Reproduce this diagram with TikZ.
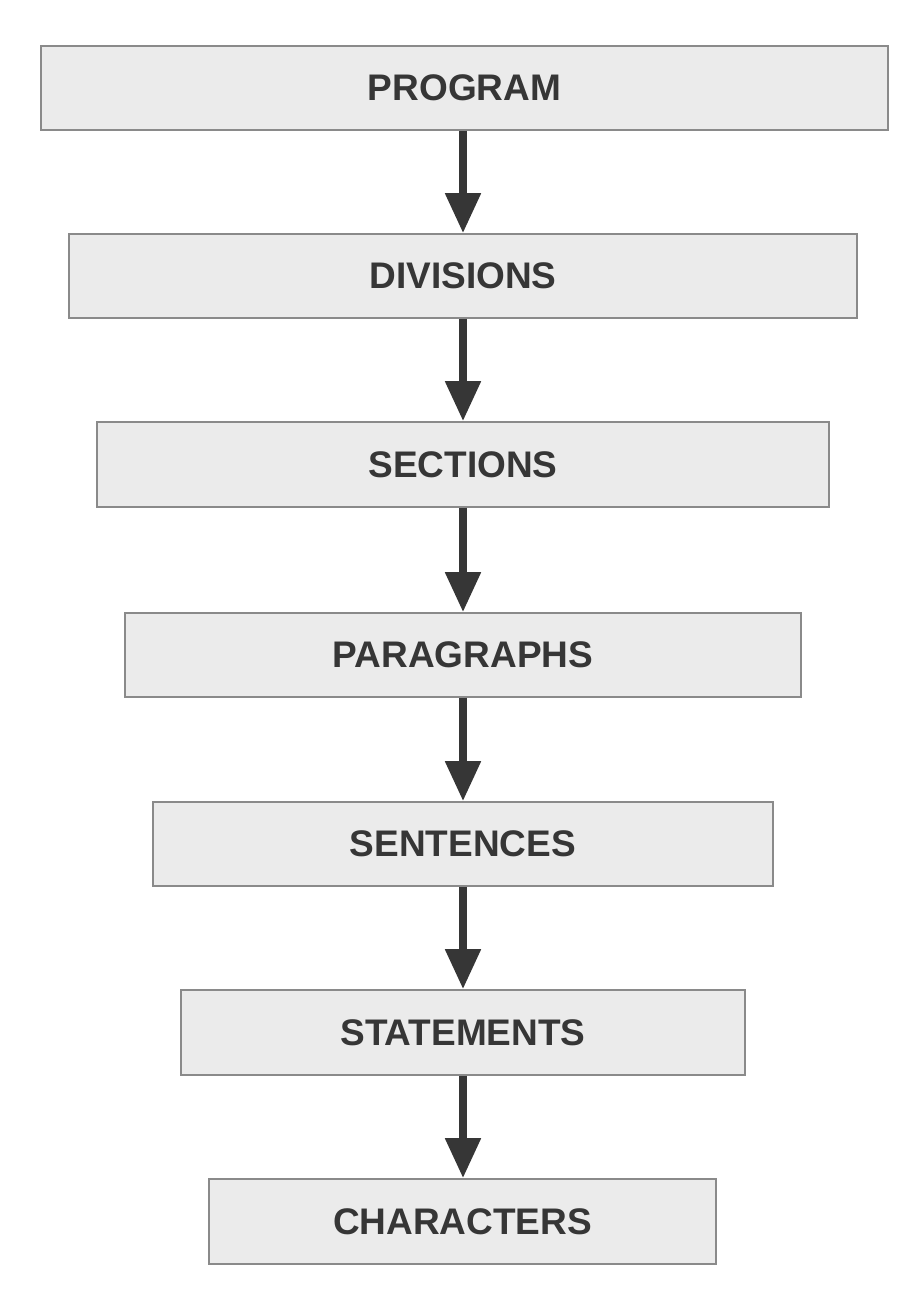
\documentclass[tikz,border=0pt]{standalone}
\usepackage{fontspec}
\setmainfont{Liberation Sans}
\usetikzlibrary{arrows.meta}
\definecolor{boxfill}{HTML}{EBEBEB}
\definecolor{boxline}{HTML}{8A8A8A}
\definecolor{ink}{HTML}{363636}
\begin{document}
\begin{tikzpicture}[x=1pt,y=-1pt,
  levelbox/.style={draw=boxline,line width=1.6pt,fill=boxfill,inner sep=0pt,
    text=ink,font=\fontsize{37}{40}\selectfont\bfseries},
  flow/.style={draw=ink,line width=8pt,-{Triangle[length=40pt,width=34pt]},shorten >=0pt}]
\useasboundingbox (0,0) rectangle (907,1298);
\node[levelbox,minimum width=847pt,minimum height=84pt] (program) at (464.5,88) {PROGRAM};
\node[levelbox,minimum width=788pt,minimum height=84pt] (divisions) at (463,276) {DIVISIONS};
\node[levelbox,minimum width=732pt,minimum height=85pt] (sections) at (463,464.5) {SECTIONS};
\node[levelbox,minimum width=676pt,minimum height=84pt] (paragraphs) at (463,655) {PARAGRAPHS};
\node[levelbox,minimum width=620pt,minimum height=84pt] (sentences) at (463,844) {SENTENCES};
\node[levelbox,minimum width=564pt,minimum height=85pt] (statements) at (463,1032.5) {STATEMENTS};
\node[levelbox,minimum width=507pt,minimum height=85pt] (characters) at (462.5,1221.5) {CHARACTERS};
\foreach \a/\b in {program/divisions,divisions/sections,sections/paragraphs,paragraphs/sentences,sentences/statements,statements/characters}
  \draw[flow] (\a.south -| 463,0) -- (\b.north -| 463,0);
\end{tikzpicture}
\end{document}
